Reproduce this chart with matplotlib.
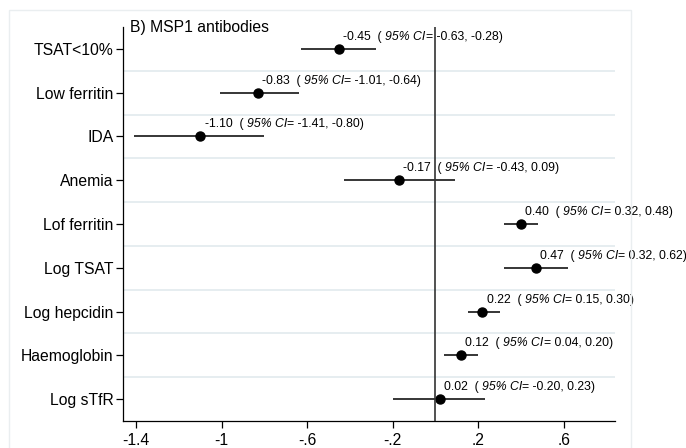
import matplotlib
matplotlib.use("Agg")
import matplotlib.pyplot as plt
from matplotlib.patches import Rectangle

plt.rcParams['font.family'] = ['Liberation Sans', 'DejaVu Sans']

labels = ["TSAT<10%", "Low ferritin", "IDA", "Anemia", "Lof ferritin",
          "Log TSAT", "Log hepcidin", "Haemoglobin", "Log sTfR"]
est = [-0.45, -0.83, -1.10, -0.17, 0.40, 0.47, 0.22, 0.12, 0.02]
lo = [-0.63, -1.01, -1.41, -0.43, 0.32, 0.32, 0.15, 0.04, -0.20]
hi = [-0.28, -0.64, -0.80, 0.09, 0.48, 0.62, 0.30, 0.20, 0.23]
xticks = [-1.4, -1.0, -0.6, -0.2, 0.2, 0.6]
xticklabels = ["-1.4", "-1", "-.6", "-.2", ".2", ".6"]
title = "B) MSP1 antibodies"

W, H = 686, 448
fig = plt.figure(figsize=(W / 100, H / 100), dpi=100)
fig.patch.set_facecolor('white')

# outer light frame
fig.patches.append(Rectangle((9 / W, -0.05), (631 - 9) / W, 1.05 - 10 / H,
                             transform=fig.transFigure, fill=False,
                             edgecolor='#eaeef0', lw=1.0))

ax = fig.add_axes([123 / W, (H - 421) / H, (615 - 123) / W, (421 - 27) / H])
ax.set_xlim(-1.462, 0.84)
ax.set_ylim(9.5, 0.5)
rows = list(range(1, len(labels) + 1))

for i in range(1, len(labels)):
    ax.axhline(i + 0.5, color='#e4ecef', lw=1.3, zorder=0)

ax.axvline(0, color='#333333', lw=1.2, zorder=4)

fs = 8.8
for r, e, l, h in zip(rows, est, lo, hi):
    ax.plot([l, h], [r, r], color='black', lw=1.1, zorder=2, solid_capstyle='butt')
    ax.plot([e], [r], 'o', color='black', ms=6.5, zorder=3)
    t1 = ax.annotate(f"{e:.2f}  ( ", xy=(e, r), xytext=(3, 6.5),
                     textcoords='offset points', ha='left', va='baseline',
                     fontsize=fs, color='black', zorder=3, annotation_clip=False)
    t2 = ax.annotate("95% CI", xy=(1, 0), xycoords=t1, ha='left', va='bottom',
                     fontsize=fs, style='italic', color='black', zorder=3,
                     annotation_clip=False)
    ax.annotate(f"= {l:.2f}, {h:.2f})", xy=(1, 0), xycoords=t2, ha='left',
                va='bottom', fontsize=fs, color='black', zorder=3,
                annotation_clip=False)

ax.set_yticks(rows)
ax.set_yticklabels(labels, fontsize=11.3)
ax.set_xticks(xticks)
ax.set_xticklabels(xticklabels, fontsize=11.3)
ax.tick_params(axis='both', direction='out', length=5, width=0.9, color='black')
ax.tick_params(axis='y', pad=2)
ax.tick_params(axis='x', pad=3.5)

for s in ['top', 'right']:
    ax.spines[s].set_visible(False)
for s in ['left', 'bottom']:
    ax.spines[s].set_color('black')
    ax.spines[s].set_linewidth(0.9)

fig.text(130 / W, 1 - 32 / H, title, fontsize=11.3, ha='left', va='baseline')

fig.savefig('out.png', dpi=100, facecolor='white')
